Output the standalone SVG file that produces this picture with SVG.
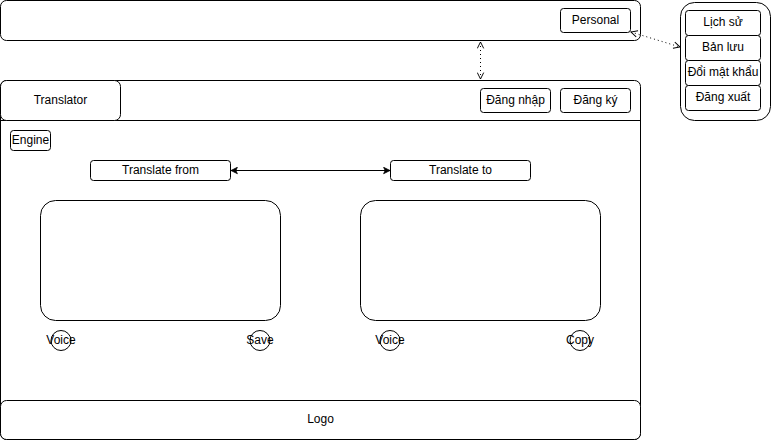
<svg xmlns="http://www.w3.org/2000/svg" width="771" height="442" viewBox="0 0 771 442">
  <style>
    .box { fill: #ffffff; stroke: #000000; stroke-width: 1; }
    .lbl { font-family: "Liberation Sans", Arial, sans-serif; font-size: 12px; fill: #000000; text-anchor: middle; dominant-baseline: central; }
    .dot { fill: none; stroke: #000000; stroke-width: 1; stroke-dasharray: 1 3; }
    .solid { fill: none; stroke: #000000; stroke-width: 1; }
  </style>
  <defs>
    <marker id="open" viewBox="0 0 10 10" refX="9" refY="5" markerWidth="8" markerHeight="8" orient="auto-start-reverse" markerUnits="userSpaceOnUse">
      <path d="M1,1 L9,5 L1,9" fill="none" stroke="#000000" stroke-width="1.2"/>
    </marker>
    <marker id="block" viewBox="0 0 10 10" refX="9" refY="5" markerWidth="8" markerHeight="8" orient="auto-start-reverse" markerUnits="userSpaceOnUse">
      <path d="M1,1 L9,5 L1,9 L3,5 Z" fill="#000000" stroke="#000000" stroke-width="1"/>
    </marker>
  </defs>

  <!-- top navigation bar -->
  <g id="top-bar">
    <rect class="box" x="0.5" y="0.5" width="640" height="40" rx="6"/>
  </g>
  <g id="personal">
    <rect class="box" x="560.5" y="8.5" width="70" height="24" rx="3"/>
    <text class="lbl" x="595.5" y="19.5">Personal</text>
  </g>

  <!-- personal menu -->
  <g id="menu">
    <rect class="box" x="680.5" y="2.5" width="90" height="118" rx="14"/>
  </g>
  <g id="menu-history">
    <rect class="box" x="685.5" y="10.5" width="75" height="25" rx="3"/>
    <text class="lbl" x="723" y="22">Lịch sử</text>
  </g>
  <g id="menu-saved">
    <rect class="box" x="685.5" y="35.5" width="75" height="25" rx="3"/>
    <text class="lbl" x="723" y="47">Bản lưu</text>
  </g>
  <g id="menu-password">
    <rect class="box" x="685.5" y="60.5" width="75" height="25" rx="3"/>
    <text class="lbl" x="723" y="72">Đổi mật khẩu</text>
  </g>
  <g id="menu-logout">
    <rect class="box" x="685.5" y="85.5" width="75" height="25" rx="3"/>
    <text class="lbl" x="723" y="97">Đăng xuất</text>
  </g>

  <!-- main frame -->
  <g id="main-frame">
    <rect class="box" x="0.5" y="80.5" width="640" height="359" rx="6"/>
    <line class="solid" x1="0.5" y1="120.5" x2="640.5" y2="120.5"/>
  </g>
  <g id="translator">
    <rect class="box" x="0.5" y="80.5" width="120" height="40" rx="6"/>
    <text class="lbl" x="60.5" y="99.5">Translator</text>
  </g>
  <g id="login">
    <rect class="box" x="480.5" y="88.5" width="70" height="24" rx="3"/>
    <text class="lbl" x="515.5" y="99.5">Đăng nhập</text>
  </g>
  <g id="register">
    <rect class="box" x="560.5" y="88.5" width="70" height="24" rx="3"/>
    <text class="lbl" x="595.5" y="99.5">Đăng ký</text>
  </g>
  <g id="engine">
    <rect class="box" x="10.5" y="130.5" width="40" height="20" rx="3"/>
    <text class="lbl" x="30.5" y="139.5">Engine</text>
  </g>
  <g id="translate-from">
    <rect class="box" x="90.5" y="160.5" width="140" height="20" rx="3"/>
    <text class="lbl" x="160.5" y="169.5">Translate from</text>
  </g>
  <g id="translate-to">
    <rect class="box" x="390.5" y="160.5" width="140" height="20" rx="3"/>
    <text class="lbl" x="460.5" y="169.5">Translate to</text>
  </g>
  <g id="source-text">
    <rect class="box" x="40.5" y="200.5" width="240" height="120" rx="15"/>
  </g>
  <g id="target-text">
    <rect class="box" x="360.5" y="200.5" width="240" height="120" rx="15"/>
  </g>
  <g id="voice-left">
    <circle class="box" cx="61" cy="340.5" r="10"/>
    <text class="lbl" x="61" y="339.5">Voice</text>
  </g>
  <g id="save">
    <circle class="box" cx="260" cy="340.5" r="10"/>
    <text class="lbl" x="260" y="339.5">Save</text>
  </g>
  <g id="voice-right">
    <circle class="box" cx="390" cy="340.5" r="10"/>
    <text class="lbl" x="390" y="339.5">Voice</text>
  </g>
  <g id="copy">
    <circle class="box" cx="580" cy="340.5" r="10"/>
    <text class="lbl" x="580" y="339.5">Copy</text>
  </g>
  <g id="logo">
    <rect class="box" x="0.5" y="400.5" width="640" height="39" rx="6"/>
    <text class="lbl" x="320.5" y="419">Logo</text>
  </g>

  <!-- connectors -->
  <g id="connectors">
    <line class="dot" x1="480.5" y1="42" x2="480.5" y2="79" marker-start="url(#open)" marker-end="url(#open)"/>
    <line class="dot" x1="631" y1="32" x2="680" y2="47" marker-start="url(#open)" marker-end="url(#open)"/>
    <line class="solid" x1="231" y1="170.5" x2="390" y2="170.5" marker-start="url(#block)" marker-end="url(#block)"/>
  </g>
</svg>
